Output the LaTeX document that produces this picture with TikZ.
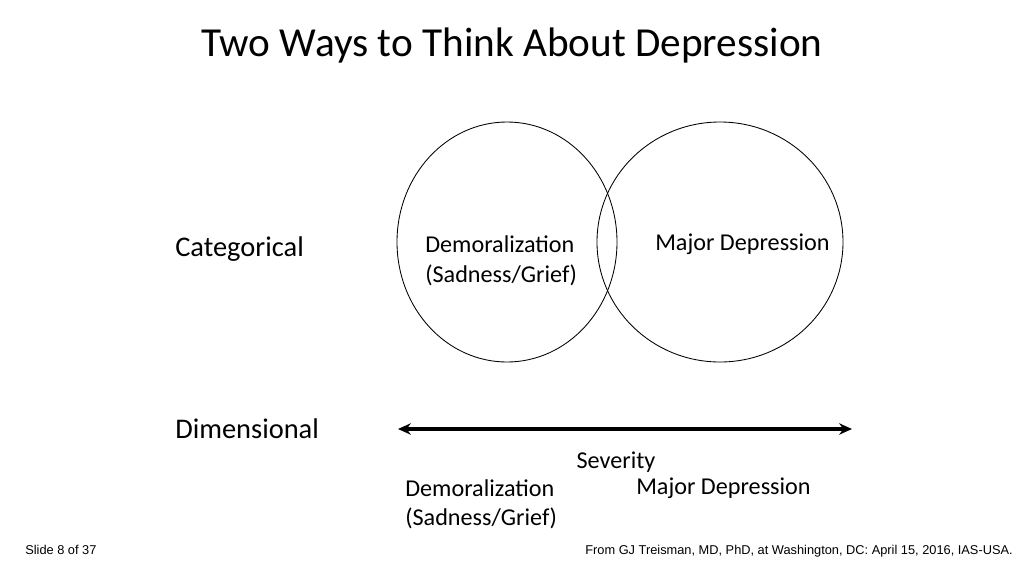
\documentclass[tikz,border=0pt]{standalone}
\usepackage{fontspec}
\setmainfont{Carlito}
\newfontfamily\arialf{Liberation Sans}
\usetikzlibrary{arrows.meta}
\begin{document}
\begin{tikzpicture}[x=0.703pt,y=-0.703pt,
  lbl/.style={inner sep=0pt,anchor=west,font=\fontsize{17}{20}\selectfont},
  big/.style={inner sep=0pt,anchor=west,font=\fontsize{20}{24}\selectfont},
  foot/.style={inner sep=0pt,font=\arialf\fontsize{9}{11}\selectfont}]
\useasboundingbox[fill=white] (0,0) rectangle (1024,576);
\node[inner sep=0pt,font=\fontsize{29}{34}\selectfont] (title) at (512,45) {Two Ways to Think About Depression};
\draw[line width=0.6pt] (507,242) ellipse [x radius=110, y radius=120];
\draw[line width=0.6pt] (720,242) ellipse [x radius=123, y radius=120];
\node[big] (cat) at (175,249) {Categorical};
\node[lbl] (d1) at (425,244) {Demoralization};
\node[lbl] (s1) at (425,275) {(Sadness/Grief)};
\node[lbl] (m1) at (655,244) {Major Depression};
\node[big] (dim) at (175,429) {Dimensional};
\coordinate (a) at (398,429);
\coordinate (b) at (852,429);
\draw[line width=2.2pt,{Stealth[length=9pt,width=8pt]}-{Stealth[length=9pt,width=8pt]}] (a) -- (b);
\node[inner sep=0pt,font=\fontsize{17}{20}\selectfont] (sev) at (616,462) {Severity};
\node[lbl] (d2) at (405,488) {Demoralization};
\node[lbl] (s2) at (405,518) {(Sadness/Grief)};
\node[lbl] (m2) at (636,488) {Major Depression};
\node[foot,anchor=west] (sl) at (25,550) {Slide 8 of 37};
\node[foot,anchor=east] (src) at (1013,551) {From GJ Treisman, MD, PhD, at Washington, DC: April 15, 2016, IAS-USA.};
\end{tikzpicture}
\end{document}
